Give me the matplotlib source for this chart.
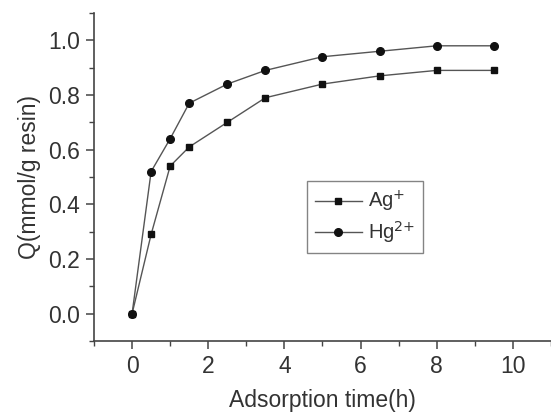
import matplotlib
matplotlib.use("Agg")
import matplotlib.pyplot as plt
from matplotlib.ticker import MultipleLocator

time_h = [0, 0.5, 1, 1.5, 2.5, 3.5, 5, 6.5, 8, 9.5]
ag = [0, 0.29, 0.54, 0.61, 0.70, 0.79, 0.84, 0.87, 0.89, 0.89]
hg = [0, 0.52, 0.64, 0.77, 0.84, 0.89, 0.94, 0.96, 0.98, 0.98]

plt.rcParams['font.family'] = ['Liberation Sans', 'DejaVu Sans']

fig = plt.figure(figsize=(5.51, 4.15), dpi=100)
ax = fig.add_axes([94/551, 1-341/415, 457/551, (341-13)/415])

line_c = '#555555'
ax.plot(time_h, ag, '-s', color=line_c, lw=1.0, ms=5, mfc='#111111', mec='#111111', label=r'Ag$^{+}$')
ax.plot(time_h, hg, '-o', color=line_c, lw=1.0, ms=5.5, mfc='#111111', mec='#111111', label=r'Hg$^{2{+}}$')

ax.set_xlim(-1, 11)
ax.set_ylim(-0.1, 1.1)
ax.xaxis.set_minor_locator(MultipleLocator(1))
ax.yaxis.set_minor_locator(MultipleLocator(0.1))
ax.set_xticks([0, 2, 4, 6, 8, 10])
ax.set_yticks([0.0, 0.2, 0.4, 0.6, 0.8, 1.0])
ax.set_yticklabels(['0.0', '0.2', '0.4', '0.6', '0.8', '1.0'])

for s in ['top', 'right']:
    ax.spines[s].set_visible(False)
for s in ['left', 'bottom']:
    ax.spines[s].set_color('#444444')
    ax.spines[s].set_linewidth(1.2)

ax.tick_params(which='major', direction='out', length=6, width=1.1, color='#444444',
               labelsize=16.5, labelcolor='#333333', pad=4)
ax.tick_params(which='minor', direction='out', length=3.5, width=1.0, color='#444444')

ax.set_xlabel('Adsorption time(h)', fontsize=16.5, color='#333333', labelpad=8)
ax.set_ylabel('Q(mmol/g resin)', fontsize=16.5, color='#333333', labelpad=5)

leg = ax.legend(loc='center', bbox_to_anchor=((365-94)/457, (341-217)/328),
                bbox_transform=ax.transAxes, fontsize=14.5, frameon=True, fancybox=False,
                handlelength=2.3, handletextpad=0.3, borderpad=0.4, labelspacing=0.25)
leg.get_frame().set_edgecolor('#666666')
leg.get_frame().set_linewidth(1.0)
for t in leg.get_texts():
    t.set_color('#333333')

fig.savefig('out.png', dpi=100)
